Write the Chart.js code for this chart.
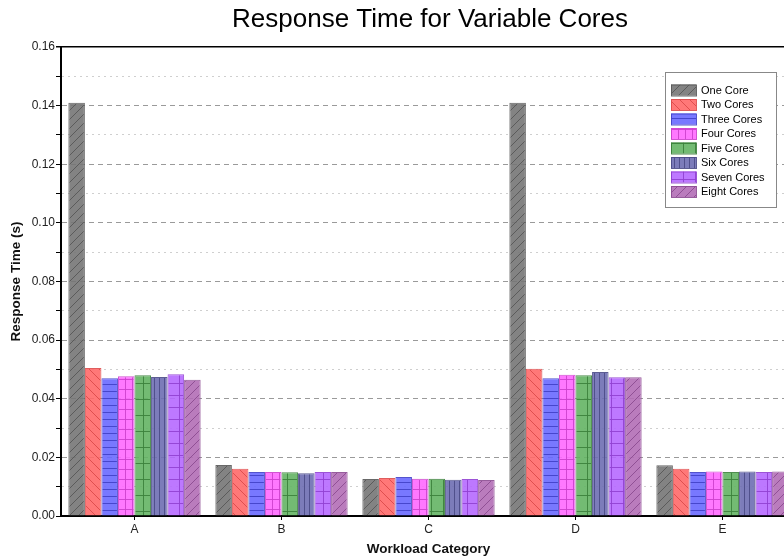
<!DOCTYPE html>
<html>
<head>
<meta charset="utf-8">
<script src="https://cdn.jsdelivr.net/npm/chart.js@4.4.0/dist/chart.umd.min.js"></script>
<style>
    html, body { margin: 0; padding: 0; background: #fff; overflow: hidden; }
    #wrap { position: relative; width: 860px; height: 560px; }
</style>
</head>
<body>
<div id="wrap"><canvas id="coresChart"></canvas></div>
<script>
// Data
const categories = ['A', 'B', 'C', 'D', 'E'];
const oneCore    = [0.141,  0.0174, 0.0126, 0.141,  0.0173];
const twoCores   = [0.0505, 0.0161, 0.0130, 0.0502, 0.0161];
const threeCores = [0.0470, 0.0150, 0.0133, 0.0470, 0.0150];
const fourCores  = [0.0477, 0.0150, 0.0127, 0.0482, 0.0152];
const fiveCores  = [0.0480, 0.0149, 0.0127, 0.0480, 0.0150];
const sixCores   = [0.0474, 0.0146, 0.0124, 0.0491, 0.0152];
const sevenCores = [0.0484, 0.0150, 0.0126, 0.0473, 0.0150];
const eightCores = [0.0465, 0.0150, 0.0123, 0.0473, 0.0152];
const chartTitle = 'Response Time for Variable Cores';

const FONT = "'Liberation Sans', Arial, sans-serif";

// Hatch pattern helper
function hatch(fill, line, kind, w, h) {
    const c = document.createElement('canvas');
    c.width = w; c.height = h;
    const g = c.getContext('2d');
    g.fillStyle = fill;
    g.fillRect(0, 0, w, h);
    g.strokeStyle = line;
    g.lineWidth = 1;
    g.beginPath();
    if (kind.includes('h')) { g.moveTo(0, h - 0.5); g.lineTo(w, h - 0.5); }
    if (kind.includes('v')) { g.moveTo(w - 0.5, 0); g.lineTo(w - 0.5, h); }
    if (kind.includes('/')) {
        g.moveTo(0, h); g.lineTo(w, 0);
        g.moveTo(-1, 1); g.lineTo(1, -1);
        g.moveTo(w - 1, h + 1); g.lineTo(w + 1, h - 1);
    }
    if (kind.includes('\\')) {
        g.moveTo(0, 0); g.lineTo(w, h);
        g.moveTo(-1, h - 1); g.lineTo(1, h + 1);
        g.moveTo(w - 1, -1); g.lineTo(w + 1, 1);
    }
    g.stroke();
    return g.createPattern(c, 'repeat');
}

const seriesDefs = [
    { label: 'One Core',    data: oneCore,    fill: 'rgba(118,118,118,0.9)', line: 'rgba(88,88,88,0.9)',   kind: '/',  w: 9, h: 9 },
    { label: 'Two Cores',   data: twoCores,   fill: 'rgba(255,105,105,0.9)', line: 'rgba(220,75,75,0.9)',  kind: '\\', w: 10, h: 10 },
    { label: 'Three Cores', data: threeCores, fill: 'rgba(105,105,255,0.9)', line: 'rgba(65,65,200,0.9)',  kind: 'h',  w: 8, h: 7 },
    { label: 'Four Cores',  data: fourCores,  fill: 'rgba(255,105,255,0.9)', line: 'rgba(205,65,205,0.9)', kind: 'hv', w: 7, h: 10 },
    { label: 'Five Cores',  data: fiveCores,  fill: 'rgba(100,180,100,0.9)', line: 'rgba(60,130,60,0.9)',  kind: 'hv', w: 12, h: 16 },
    { label: 'Six Cores',   data: sixCores,   fill: 'rgba(110,110,178,0.9)', line: 'rgba(75,75,135,0.9)',  kind: 'v',  w: 5, h: 5 },
    { label: 'Seven Cores', data: sevenCores, fill: 'rgba(182,105,255,0.9)', line: 'rgba(145,65,210,0.9)', kind: 'hv', w: 12, h: 12 },
    { label: 'Eight Cores', data: eightCores, fill: 'rgba(178,110,182,0.9)', line: 'rgba(140,75,145,0.9)', kind: '/',  w: 9, h: 9 }
];

const datasets = seriesDefs.map(s => ({
    label: s.label,
    data: s.data,
    backgroundColor: hatch(s.fill, s.line, s.kind, s.w, s.h),
    borderColor: s.line,
    borderWidth: 1,
    categoryPercentage: 0.9,
    barPercentage: 1.0
}));

// Title centred over the visible plot, and a boxed legend inside the plot area
const overlay = {
    id: 'overlay',
    afterDraw(chart) {
        const ctx = chart.ctx;
        ctx.save();
        ctx.fillStyle = '#000';
        ctx.font = '26px ' + FONT;
        ctx.textAlign = 'center';
        ctx.textBaseline = 'alphabetic';
        ctx.fillText(chartTitle, 430, 27);

        const x = 665, y = 72, w = 111, h = 135;
        ctx.textAlign = 'left';
        ctx.fillStyle = '#fff';
        ctx.fillRect(x, y, w, h);
        ctx.strokeStyle = '#888';
        ctx.lineWidth = 1;
        ctx.strokeRect(x + 0.5, y + 0.5, w, h);
        ctx.font = '11px ' + FONT;
        ctx.textBaseline = 'middle';
        chart.data.datasets.forEach((ds, i) => {
            const cy = 90 + i * 14.5;
            ctx.fillStyle = ds.backgroundColor;
            ctx.fillRect(671, cy - 5.5, 25, 11);
            ctx.strokeStyle = ds.borderColor;
            ctx.strokeRect(671.5, cy - 5, 25, 11);
            ctx.fillStyle = '#000';
            ctx.fillText(ds.label, 701, cy + 0.5);
        });
        ctx.restore();
    }
};

const chartCtx = document.getElementById('coresChart').getContext('2d');
const coresChart = new Chart(chartCtx, {
    type: 'bar',
    data: {
        labels: categories,
        datasets: datasets
    },
    options: {
        responsive: true,
        maintainAspectRatio: false,
        animation: false,
        layout: { padding: { left: 0, right: 64, top: 47, bottom: 0 } },
        plugins: {
            legend: { display: false },
            tooltip: { enabled: false },
            title: { display: false }
        },
        scales: {
            x: {
                grid: {
                    drawOnChartArea: false,
                    drawTicks: true,
                    offset: false,
                    tickLength: 4,
                    tickColor: '#000'
                },
                border: { display: true, color: '#000', width: 2 },
                ticks: {
                    color: '#222',
                    padding: 2,
                    font: { family: FONT, size: 12 }
                },
                title: {
                    display: true,
                    text: 'Workload Category',
                    color: '#111',
                    font: { family: FONT, size: 13.5, weight: 'bold' },
                    padding: { top: 0, bottom: 3 }
                },
                afterFit(scale) { scale.height = 44; }
            },
            y: {
                min: 0,
                max: 0.16,
                ticks: {
                    stepSize: 0.01,
                    padding: 1,
                    color: '#222',
                    font: { family: FONT, size: 12 },
                    callback: (v) => {
                        const r = Math.round(v * 100);
                        return r % 2 === 0 ? (r / 100).toFixed(2) : '';
                    }
                },
                grid: {
                    tickLength: 5,
                    tickColor: '#000',
                    color: (c) => {
                        if (!c.tick) return '#ccc';
                        const r = Math.round(c.tick.value * 100);
                        if (r === 16) return '#000';
                        if (r === 0) return 'rgba(0,0,0,0)';
                        return r % 2 === 0 ? '#9a9a9a' : '#cfcfcf';
                    },
                    lineWidth: (c) => (c.tick && Math.round(c.tick.value * 100) === 16 ? 1.5 : 1)
                },
                border: {
                    display: true,
                    color: '#000',
                    width: 2,
                    dash: (c) => {
                        if (!c.tick) return [];
                        const r = Math.round(c.tick.value * 100);
                        if (r === 16) return [];
                        return r % 2 === 0 ? [5, 4] : [2, 4];
                    }
                },
                title: {
                    display: true,
                    text: 'Response Time (s)',
                    color: '#111',
                    font: { family: FONT, size: 13.5, weight: 'bold' },
                    padding: { top: 8, bottom: 0 }
                },
                afterFit(scale) { scale.width = 61; }
            }
        }
    },
    plugins: [overlay]
});
</script>
</body>
</html>
